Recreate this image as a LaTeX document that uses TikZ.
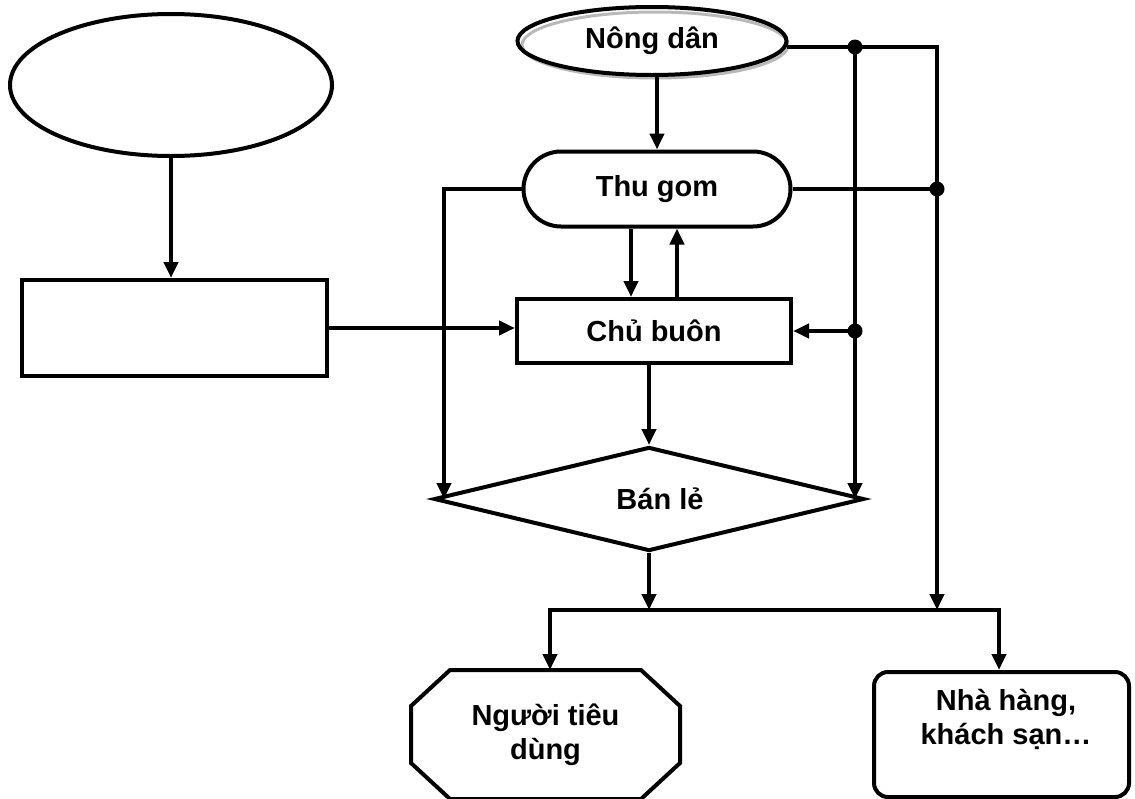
\documentclass[tikz,border=0pt]{standalone}
\usepackage{fontspec}
\setmainfont{Liberation Sans}
\usetikzlibrary{arrows.meta,shapes.geometric,shapes.misc,calc}
\begin{document}
\begin{tikzpicture}[x=1pt,y=-1pt,
  every node/.style={font=\fontsize{29}{34}\selectfont\bfseries, line width=4pt, inner sep=0pt},
  ln/.style={line width=4pt},
  arr/.style={ln,-{Triangle[length=16pt,width=14pt]}},
  arrboth/.style={ln,{Triangle[length=16pt,width=14pt]}-{Triangle[length=16pt,width=14pt]}},
  dotr/.style={radius=7.5pt}]
\useasboundingbox (0,0) rectangle (1135,798);

% nodes
\node[draw, ellipse, minimum width=322pt, minimum height=142pt] (src) at (171,85) {};
\node[draw, rectangle, minimum width=305pt, minimum height=96pt] (box) at (174.5,328) {};
\draw[gray!55, line width=3pt] (655,45) ellipse [x radius=133pt, y radius=33pt];
\node[draw, ellipse, minimum width=269pt, minimum height=68pt] (nong) at (652,41) {Nông dân};
\node[draw, rounded rectangle, minimum width=267pt, minimum height=75pt] (thu) at (657,189) {Thu gom};
\node[draw, rectangle, minimum width=274pt, minimum height=64pt] (chu) at (654,331) {Chủ buôn};
\node[draw, diamond, minimum width=430pt, minimum height=104pt] (ban) at (649,499) {};
\node (bant) at (660,499) {Bán lẻ};
\node[minimum width=265pt, minimum height=125pt, align=center] (ntd) at (545.5,734.5) {Người tiêu\\dùng};
\draw[ln] ($(ntd.north west)+(39,0)$) -- ($(ntd.north east)+(-39,0)$) -- ($(ntd.north east)+(0,36)$)
  -- ($(ntd.south east)+(0,-36)$) -- ($(ntd.south east)+(-39,0)$) -- ($(ntd.south west)+(39,0)$)
  -- ($(ntd.south west)+(0,-36)$) -- ($(ntd.north west)+(0,36)$) -- cycle;
\node[draw, rectangle, rounded corners=14pt, minimum width=255pt, minimum height=125pt] (nha) at (1001.5,734.5) {};
\node[align=center] (nhat) at (1006,719) {Nhà hàng,\\khách sạn…};

% junctions
\coordinate (j1) at (855,47);
\coordinate (j2) at (937,47);
\coordinate (bl) at (550,610);
\coordinate (br) at (999,610);
\coordinate (j3) at (j2 |- thu.east);
\coordinate (j4) at (j1 |- chu.east);
\coordinate (j5) at (444,0);
\coordinate (xa) at (631,0);
\coordinate (xb) at (677,0);

% connectors
\draw[arr] (src.south) -- (src.south |- box.north);
\draw[arr] (box.east) -- (box.east -| chu.west);
\draw[arr] ($(nong.east)+(-2,6)$) -- (j2) -- (j2 |- bl);
\draw[arr] (j1) -- (j1 |- ban.east);
\draw[ln] (thu.east) -- (j3);
\draw[arr] (j4) -- (chu.east);
\draw[arr] (thu.west) -- (thu.west -| j5) -- (j5 |- ban.west);
\draw[arr] (thu.north |- nong.south) -- (thu.north);
\draw[arr] (xa |- thu.south) -- (xa |- chu.north);
\draw[arr] (xb |- chu.north) -- (xb |- thu.south);
\draw[arr] (ban.north |- chu.south) -- (ban.north);
\draw[arr] (ban.south) -- (ban.south |- bl);
\draw[arrboth] (bl |- ntd.north) -- (bl) -- (br) -- (br |- nha.north);

% dots
\fill (j1) circle[dotr];
\fill (j3) circle[dotr];
\fill (j4) circle[dotr];
\end{tikzpicture}
\end{document}
